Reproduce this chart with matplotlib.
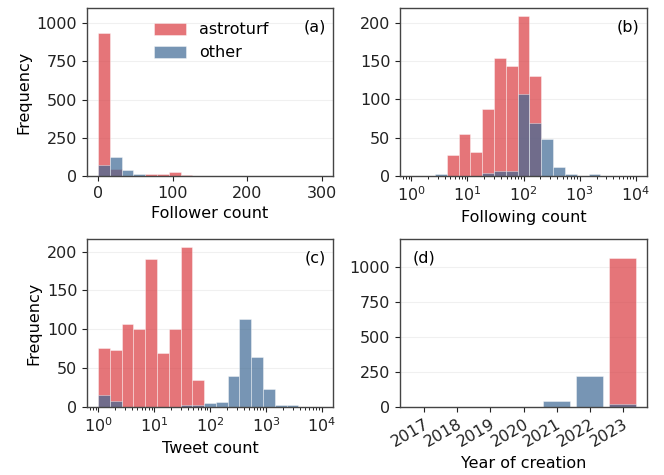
import numpy as np
import matplotlib
matplotlib.use("Agg")
import matplotlib.pyplot as plt

# ---------------- data ----------------
# (a) follower count, 19 linear bins over 0..300
follower_edges = np.linspace(0, 300, 20)
follower_astro = [934, 44, 0, 3, 12, 15, 26, 7, 3, 0, 0, 0, 0, 0, 0, 0, 0, 0, 0]
follower_other = [70, 125, 40, 15, 3, 0, 0, 0, 0, 0, 0, 0, 0, 0, 0, 0, 0, 0, 0]

# (b) following count, 19 log bins over 1..1e4
following_edges = np.logspace(0, 4, 20)
following_astro = [0, 0, 0, 28, 55, 31, 88, 154, 144, 209, 130, 0, 0, 0, 0, 0, 0, 0, 0]
following_other = [0, 0, 3, 0, 0, 0, 4, 7, 7, 107, 69, 48, 12, 3, 0, 2, 0, 0, 0]

# (c) tweet count, 19 log bins over 1..1e4
tweet_edges = np.logspace(0, 4, 20)
tweet_astro = [76, 73, 107, 101, 190, 69, 101, 206, 35, 0, 0, 0, 0, 0, 0, 0, 0, 0, 0]
tweet_other = [15, 8, 0, 0, 0, 0, 0, 3, 2, 5, 6, 40, 113, 64, 23, 3, 3, 0, 0]

# (d) year of creation
years = [2017, 2018, 2019, 2020, 2021, 2022, 2023]
year_astro = [0, 0, 0, 0, 0, 0, 1065]
year_other = [0, 0, 0, 0, 45, 220, 21]

labels = ["astroturf", "other"]
RED = "#DA3B41"
BLUE = "#3E6994"
ALPHA = 0.7
FS = 11.5

# ---------------- figure ----------------
plt.rcParams["font.family"] = ["DejaVu Sans"]
plt.rcParams["font.size"] = FS
fig = plt.figure(figsize=(6.64, 4.75), dpi=100)

W, H = 664, 475
def rect(l, t, r, b):
    return [l / W, 1 - b / H, (r - l) / W, (b - t) / H]

axa = fig.add_axes(rect(87, 8, 333, 176))
axb = fig.add_axes(rect(400, 8, 647, 176))
axc = fig.add_axes(rect(87, 239, 333, 407))
axd = fig.add_axes(rect(400, 239, 647, 407))

def style(ax):
    for s in ax.spines.values():
        s.set_color("#444444")
        s.set_linewidth(1.0)
    ax.grid(axis="y", color="#f0f0f0", linewidth=0.8)
    ax.set_axisbelow(True)
    ax.tick_params(colors="#222222", labelsize=FS)

def hist_pair(ax, edges, a, o):
    centers = (np.asarray(edges[:-1]) + np.asarray(edges[1:])) / 2
    ax.hist(centers, bins=edges, weights=a, color=RED, alpha=ALPHA,
            edgecolor="white", linewidth=0.4, label=labels[0])
    ax.hist(centers, bins=edges, weights=o, color=BLUE, alpha=ALPHA,
            edgecolor="white", linewidth=0.4, label=labels[1])

# (a)
hist_pair(axa, follower_edges, follower_astro, follower_other)
axa.set_ylim(0, 1100)
axa.set_yticks([0, 250, 500, 750, 1000])
axa.set_xticks([0, 100, 200, 300])
axa.set_xlabel("Follower count")
axa.set_ylabel("Frequency")
axa.text(0.97, 0.93, "(a)", transform=axa.transAxes, ha="right", va="top")
axa.legend(loc="upper left", bbox_to_anchor=(0.215, 1.0), frameon=False,
           handlelength=2.0, handleheight=0.75, handletextpad=0.8,
           labelspacing=0.5, fontsize=FS)
style(axa)

# (b)
hist_pair(axb, following_edges, following_astro, following_other)
axb.set_xscale("log")
axb.set_xlim(10 ** -0.2, 10 ** 4.2)
axb.set_yticks([0, 50, 100, 150, 200])
axb.set_xlabel("Following count")
axb.text(0.97, 0.93, "(b)", transform=axb.transAxes, ha="right", va="top")
style(axb)

# (c)
hist_pair(axc, tweet_edges, tweet_astro, tweet_other)
axc.set_xscale("log")
axc.set_xlim(10 ** -0.2, 10 ** 4.2)
axc.set_yticks([0, 50, 100, 150, 200])
axc.set_xlabel("Tweet count")
axc.set_ylabel("Frequency")
axc.text(0.97, 0.93, "(c)", transform=axc.transAxes, ha="right", va="top")
style(axc)

# (d)
axd.bar(years, year_astro, width=0.8, color=RED, alpha=ALPHA,
        edgecolor="white", linewidth=0.4)
axd.bar(years, year_other, width=0.8, color=BLUE, alpha=ALPHA,
        edgecolor="white", linewidth=0.4)
axd.set_ylim(0, 1200)
axd.set_yticks([0, 250, 500, 750, 1000])
axd.set_xticks(years)
axd.set_xticklabels([str(y) for y in years], rotation=30, ha="right",
                    rotation_mode="anchor")
axd.set_xlabel("Year of creation")
axd.text(0.05, 0.93, "(d)", transform=axd.transAxes, ha="left", va="top")
style(axd)

fig.savefig("out.png", dpi=100)
